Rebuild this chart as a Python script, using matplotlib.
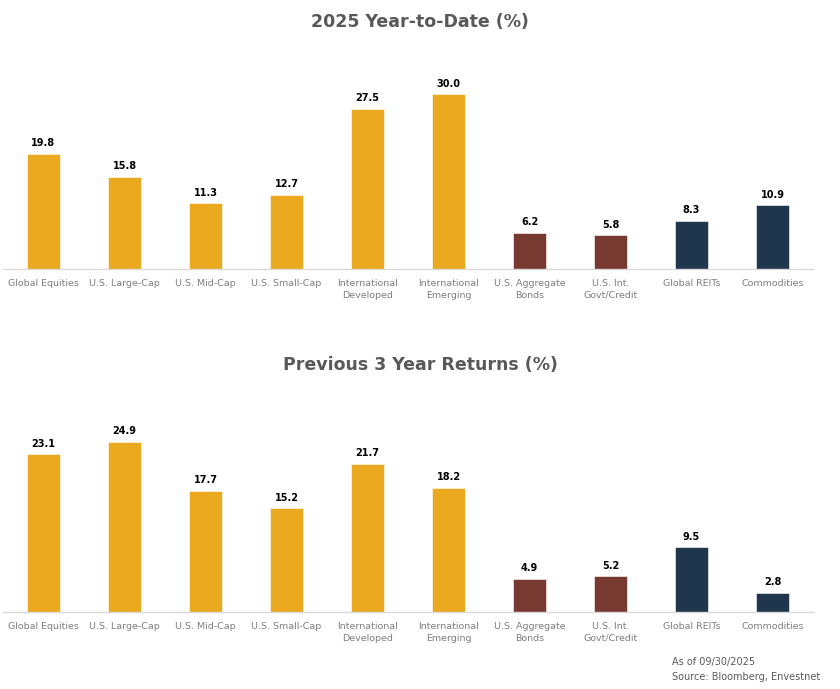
import numpy as np
import matplotlib.pyplot as plt

categories = ['Global Equities', 'U.S. Large-Cap', 'U.S. Mid-Cap', 'U.S. Small-Cap',
              'International\nDeveloped', 'International\nEmerging', 'U.S. Aggregate\nBonds',
              'U.S. Int.\nGovt/Credit', 'Global REITs', 'Commodities']
ytd_returns = [19.8, 15.8, 11.3, 12.7, 27.5, 30.0, 6.2, 5.8, 8.3, 10.9]
three_year_returns = [23.1, 24.9, 17.7, 15.2, 21.7, 18.2, 4.9, 5.2, 9.5, 2.8]
asset_class = ['equity'] * 6 + ['bond'] * 2 + ['real'] * 2

colors = {'equity': '#EBA920', 'bond': '#783A30', 'real': '#1F364C'}
bar_colors = [colors[a] for a in asset_class]

fig = plt.figure(figsize=(8.4, 6.89), dpi=100)


def draw_panel(ax, values, ymax):
    x = np.arange(len(categories))
    ax.bar(x, values, width=0.4, color=bar_colors, edgecolor='white', linewidth=0.4)
    for xi, v in zip(x, values):
        ax.annotate(f'{v:.1f}', (xi, v), xytext=(0, 4), textcoords='offset points',
                    ha='center', va='bottom', fontsize=7, fontweight='bold', color='black')
    ax.set_xlim(-0.5, len(categories) - 0.5)
    ax.set_ylim(0, ymax)
    ax.set_xticks(x)
    ax.set_xticklabels(categories, fontsize=6.8, color='#7F7F7F', linespacing=1.35)
    ax.tick_params(axis='x', length=0, pad=7.5)
    ax.set_yticks([])
    for side in ['top', 'right', 'left']:
        ax.spines[side].set_visible(False)
    ax.spines['bottom'].set_color('#D9D9D9')
    ax.spines['bottom'].set_linewidth(1.0)
    ax.set_facecolor('none')


# top chart: baseline near y=269 px
ax1 = fig.add_axes([3 / 840, (689 - 269) / 689, 810 / 840, 204 / 689])
draw_panel(ax1, ytd_returns, 35)

# bottom chart: baseline near y=612 px
ax2 = fig.add_axes([3 / 840, (689 - 612) / 689, 810 / 840, 205 / 689])
draw_panel(ax2, three_year_returns, 30)

fig.text(420 / 840, 1 - 22 / 689, '2025 Year-to-Date (%)', ha='center', va='center',
         fontsize=12.5, fontweight='bold', color='#595959')
fig.text(420 / 840, 1 - 365 / 689, 'Previous 3 Year Returns (%)', ha='center', va='center',
         fontsize=12.5, fontweight='bold', color='#595959')

fig.text(672 / 840, 1 - 662 / 689, 'As of 09/30/2025', ha='left', va='center',
         fontsize=7, color='#595959')
fig.text(672 / 840, 1 - 677 / 689, 'Source: Bloomberg, Envestnet', ha='left', va='center',
         fontsize=7, color='#595959')

fig.savefig('out.png', dpi=100, facecolor='white')
